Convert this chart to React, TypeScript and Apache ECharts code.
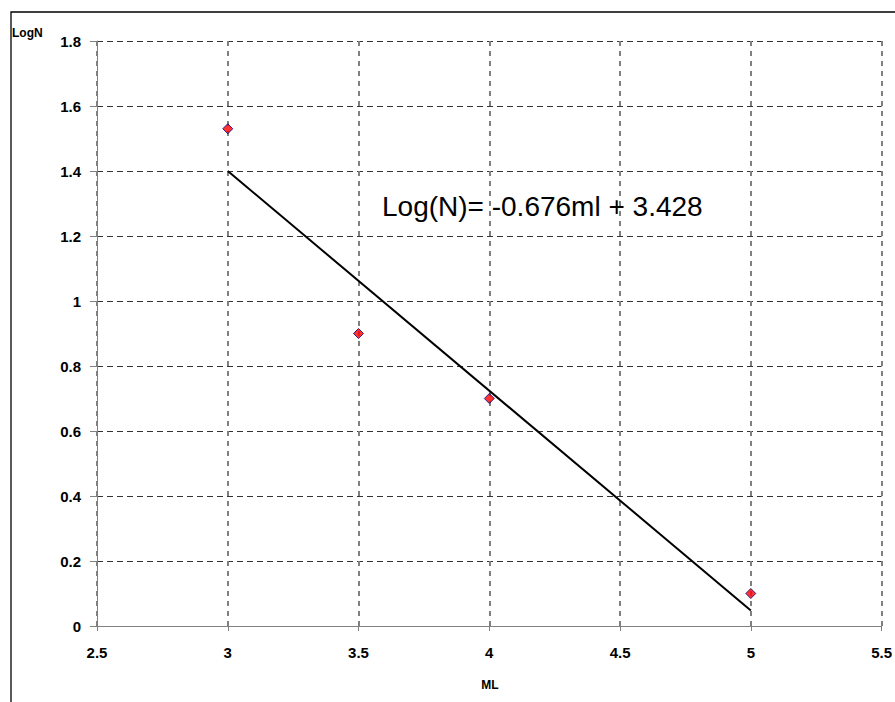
import React, { useEffect, useRef } from "react";
import * as echarts from "echarts";

const mlValues = [3, 3.5, 4, 5];
const logNValues = [1.53, 0.9, 0.7, 0.1];
const trendX = [3, 5];
const trendY = [1.4, 0.048];
const equationText = "Log(N)= -0.676ml + 3.428";

export default function App() {
  const ref = useRef<HTMLDivElement>(null);
  useEffect(() => {
    document.body.style.margin = "0";
    const chart = echarts.init(ref.current!, null, { renderer: "svg" });
    const font = "Arial, 'Liberation Sans', sans-serif";
    chart.setOption({
      animation: false,
      backgroundColor: "#fff",
      grid: { left: 97, right: 12, top: 41, bottom: 76, containLabel: false },
      xAxis: {
        type: "value",
        min: 2.5,
        max: 5.5,
        interval: 0.5,
        axisLine: { show: true, onZero: false, lineStyle: { color: "#808080", width: 1 } },
        axisTick: { show: true, inside: false, length: 5, lineStyle: { color: "#808080" } },
        axisLabel: { margin: 19, fontSize: 15, fontWeight: "bold", color: "#000", fontFamily: font },
        splitLine: { show: true, lineStyle: { color: "#808080", width: 2, type: [5, 5] } },
      },
      yAxis: {
        type: "value",
        min: 0,
        max: 1.8,
        interval: 0.2,
        axisLine: { show: true, onZero: false, lineStyle: { color: "#808080", width: 1 } },
        axisTick: { show: true, inside: false, length: 7, lineStyle: { color: "#808080" } },
        axisLabel: { margin: 16, fontSize: 15, fontWeight: "bold", color: "#000", fontFamily: font },
        splitLine: { show: true, lineStyle: { color: "#333", width: 1, type: [6, 4] } },
      },
      series: [
        {
          type: "line",
          data: trendX.map((x, i) => [x, trendY[i]]),
          showSymbol: false,
          symbol: "none",
          lineStyle: { color: "#000", width: 2 },
          z: 2,
        },
        {
          type: "scatter",
          data: mlValues.map((x, i) => [x, logNValues[i]]),
          symbol: "diamond",
          symbolSize: 10,
          itemStyle: { color: "#ff0000", borderColor: "#000080", borderWidth: 1 },
          z: 3,
        },
      ],
      graphic: [
        {
          type: "rect",
          shape: { x: 11, y: 12, width: 900, height: 700 },
          style: { fill: "none", stroke: "#000", lineWidth: 1.3 },
          silent: true,
          z: 0,
        },
        {
          type: "text",
          x: 382,
          y: 206,
          style: { text: equationText, font: `28px ${font}`, fill: "#000", verticalAlign: "middle", align: "left" },
          z: 10,
        },
        {
          type: "text",
          x: 12,
          y: 33,
          style: { text: "LogN", font: `bold 12px ${font}`, fill: "#000", verticalAlign: "middle", align: "left" },
          z: 10,
        },
        {
          type: "text",
          x: 490,
          y: 685,
          style: { text: "ML", font: `bold 12px ${font}`, fill: "#000", verticalAlign: "middle", align: "center" },
          z: 10,
        },
      ],
    });
    return () => chart.dispose();
  }, []);
  return <div ref={ref} style={{ position: "absolute", left: 0, top: 0, width: 895, height: 702 }} />;
}
